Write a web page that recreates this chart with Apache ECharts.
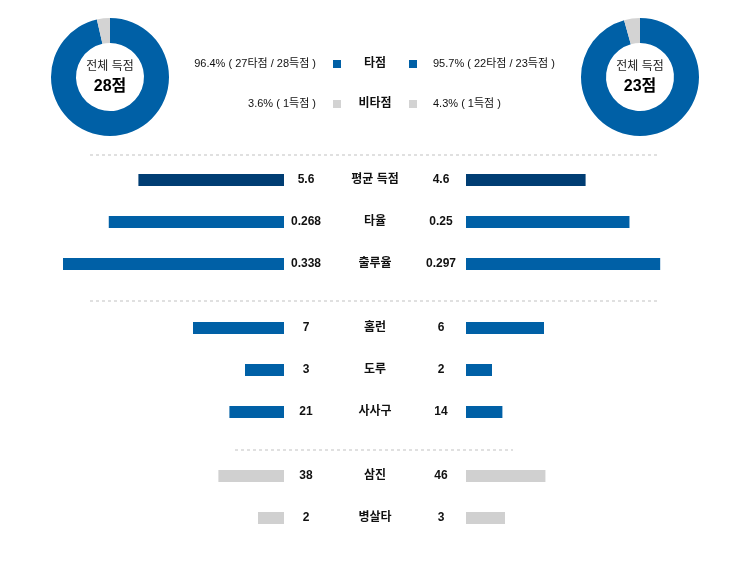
<!DOCTYPE html>
<html>
<head>
<meta charset="utf-8">
<script src="https://cdn.jsdelivr.net/npm/echarts@6/dist/echarts.min.js"></script>
<style>
  html, body { margin: 0; padding: 0; background: #fff; }
  #main { width: 748px; height: 571px; }
</style>
</head>
<body>
<div id="main"></div>
<script>
// 기록 데이터
var categories = ['평균 득점', '타율', '출루율', '홈런', '도루', '사사구', '삼진', '병살타'];
var homeValues = [5.6, 0.268, 0.338, 7, 3, 21, 38, 2];
var awayValues = [4.6, 0.25, 0.297, 6, 2, 14, 46, 3];
var rowMax = [8.5, 0.338, 0.338, 17, 17, 85, 128, 17];

// 득점 구성 [타점, 비타점]
var homeRuns = [27, 1];
var awayRuns = [22, 1];
var runNames = ['타점', '비타점'];

var BLUE = '#0060a6', NAVY = '#003d73', GRAY = '#d0d0d0';
var rowY = [180, 222, 264, 328, 370, 412, 476, 518];
var rowColor = [NAVY, BLUE, BLUE, BLUE, BLUE, BLUE, GRAY, GRAY];

var myChart = echarts.init(document.getElementById('main'));
var FONT = 'Arial, "Noto Sans CJK KR", sans-serif';

function sum(a) { return a.reduce(function (s, v) { return s + v; }, 0); }
function pct(n, t) { return (n / t * 100).toFixed(1) + '%'; }

var grid = [], xAxis = [], yAxis = [], series = [], graphic = [];

categories.forEach(function (c, i) {
    [0, 1].forEach(function (side) {
        var idx = grid.length;
        grid.push({ left: side === 0 ? 63 : 466, width: 221, top: rowY[i] - 6, height: 12 });
        xAxis.push({ type: 'value', gridIndex: idx, min: 0, max: rowMax[i], inverse: side === 0, show: false });
        yAxis.push({ type: 'category', gridIndex: idx, data: [c], show: false });
        series.push({
            type: 'bar', xAxisIndex: idx, yAxisIndex: idx, silent: true,
            barWidth: 12,
            data: [side === 0 ? homeValues[i] : awayValues[i]],
            itemStyle: { color: rowColor[i] }
        });
    });
    graphic.push(
        { type: 'text', style: { text: String(homeValues[i]), x: 306, y: rowY[i], textAlign: 'center', textVerticalAlign: 'middle', font: 'bold 12px ' + FONT, fill: '#111' } },
        { type: 'text', style: { text: c, x: 375, y: rowY[i], textAlign: 'center', textVerticalAlign: 'middle', font: 'bold 12px ' + FONT, fill: '#111' } },
        { type: 'text', style: { text: String(awayValues[i]), x: 441, y: rowY[i], textAlign: 'center', textVerticalAlign: 'middle', font: 'bold 12px ' + FONT, fill: '#111' } }
    );
});

// 도넛
[[homeRuns, 110], [awayRuns, 640]].forEach(function (d) {
    series.push({
        type: 'pie', silent: true, center: [d[1], 77], radius: [34, 59],
        label: { show: false }, labelLine: { show: false },
        data: d[0].map(function (v, k) { return { value: v, name: runNames[k], itemStyle: { color: k === 0 ? BLUE : '#d3d3d3' } }; })
    });
    graphic.push(
        { type: 'text', style: { text: '전체 득점', x: d[1], y: 67, textAlign: 'center', textVerticalAlign: 'middle', font: '12px ' + FONT, fill: '#222' } },
        { type: 'text', style: { text: sum(d[0]) + '점', x: d[1], y: 87, textAlign: 'center', textVerticalAlign: 'middle', font: 'bold 16px ' + FONT, fill: '#000' } }
    );
});

// 가운데 범례
var hT = sum(homeRuns), aT = sum(awayRuns);
var legendRows = [
    { y: 64, color: BLUE, name: runNames[0],
      left: pct(homeRuns[0], hT) + ' ( ' + homeRuns[0] + '타점 / ' + hT + '득점 )',
      right: pct(awayRuns[0], aT) + ' ( ' + awayRuns[0] + '타점 / ' + aT + '득점 )' },
    { y: 104, color: '#d3d3d3', name: runNames[1],
      left: pct(homeRuns[1], hT) + ' ( ' + homeRuns[1] + '득점 )',
      right: pct(awayRuns[1], aT) + ' ( ' + awayRuns[1] + '득점 )' }
];
legendRows.forEach(function (r) {
    graphic.push(
        { type: 'text', style: { text: r.left, x: 316, y: r.y, textAlign: 'right', textVerticalAlign: 'middle', font: '11px ' + FONT, fill: '#111' } },
        { type: 'rect', shape: { x: 333, y: r.y - 4, width: 8, height: 8 }, style: { fill: r.color } },
        { type: 'text', style: { text: r.name, x: 375, y: r.y, textAlign: 'center', textVerticalAlign: 'middle', font: 'bold 12px ' + FONT, fill: '#111' } },
        { type: 'rect', shape: { x: 409, y: r.y - 4, width: 8, height: 8 }, style: { fill: r.color } },
        { type: 'text', style: { text: r.right, x: 433, y: r.y, textAlign: 'left', textVerticalAlign: 'middle', font: '11px ' + FONT, fill: '#111' } }
    );
});

// 점선 구분
[[90, 660, 155], [90, 660, 301], [235, 513, 450]].forEach(function (l) {
    graphic.push({ type: 'line', shape: { x1: l[0], y1: l[2], x2: l[1], y2: l[2] }, style: { stroke: '#e0e0e0', lineWidth: 2, lineDash: [3, 3] } });
});

var option = {
    animation: false,
    grid: grid, xAxis: xAxis, yAxis: yAxis, series: series, graphic: graphic
};
myChart.setOption(option);
window.addEventListener('resize', function () { myChart.resize(); });
</script>
</body>
</html>
